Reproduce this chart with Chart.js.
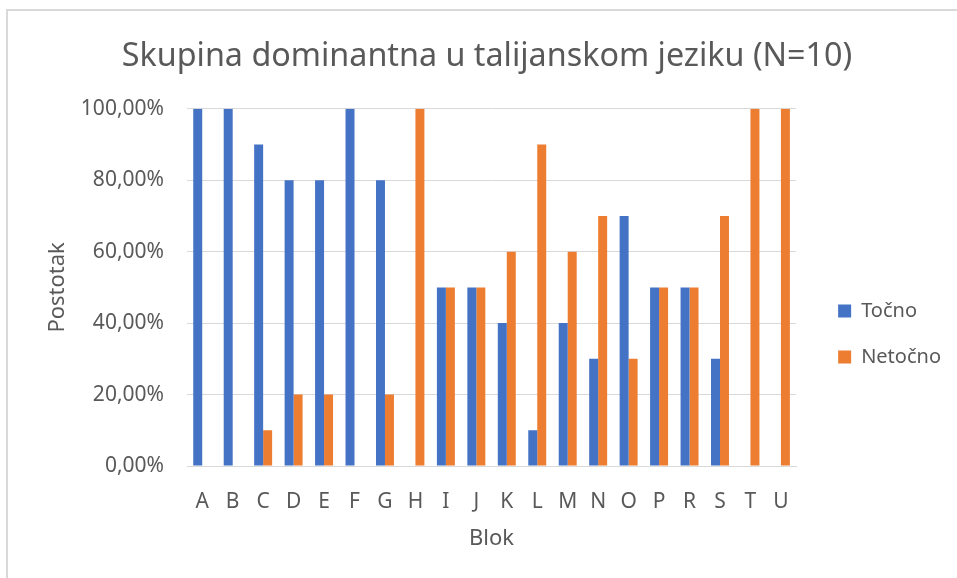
<!DOCTYPE html>
<html>
<head>
<meta charset="utf-8">
<script src="https://cdn.jsdelivr.net/npm/chart.js@4.4.0/dist/chart.umd.min.js"></script>
<style>
    html, body { margin: 0; padding: 0; background: #fff; }
    #okvir {
        position: absolute; left: 6px; top: 9px; width: 1000px; height: 600px;
        border-left: 2px solid #d9d9d9; border-top: 2px solid #d9d9d9;
    }
    #wrap { position: absolute; left: 0; top: 0; width: 957px; height: 578px; }
</style>
</head>
<body>
<div id="okvir"></div>
<div id="wrap"><canvas id="grafikon"></canvas></div>
<script>
// Podaci očitani s grafikona
const blokovi = ['A', 'B', 'C', 'D', 'E', 'F', 'G', 'H', 'I', 'J', 'K', 'L', 'M', 'N', 'O', 'P', 'R', 'S', 'T', 'U'];
const tocno =   [100, 100, 90, 80, 80, 100, 80, 0, 50, 50, 40, 10, 40, 30, 70, 50, 50, 30, 0, 0];
const netocno = [0, 0, 10, 20, 20, 0, 20, 100, 50, 50, 60, 90, 60, 70, 30, 50, 50, 70, 100, 100];
const yTicks = [0, 20, 40, 60, 80, 100];

const SIVA = '#595959';
const FONT = "'Noto Sans', sans-serif";

const ctx = document.getElementById('grafikon').getContext('2d');

new Chart(ctx, {
    type: 'bar',
    data: {
        labels: blokovi,
        datasets: [
            {
                label: 'Točno',
                data: tocno,
                backgroundColor: '#4472C4',
                categoryPercentage: 0.59,
                barPercentage: 1
            },
            {
                label: 'Netočno',
                data: netocno,
                backgroundColor: '#ED7D31',
                categoryPercentage: 0.59,
                barPercentage: 1
            }
        ]
    },
    options: {
        responsive: true,
        maintainAspectRatio: false,
        animation: false,
        layout: { padding: { top: 0, right: 6, bottom: 0, left: 23 } },
        plugins: {
            title: {
                display: true,
                text: 'Skupina dominantna u talijanskom jeziku (N=10)',
                color: SIVA,
                font: { family: FONT, size: 32.3, weight: 'normal' },
                padding: { top: 37, bottom: 33 }
            },
            legend: {
                position: 'right',
                // prazan naslov legende samo spušta stavke prema dolje
                title: {
                    display: true,
                    text: '',
                    font: { family: FONT, size: 20 },
                    padding: { top: 0, bottom: 66 }
                },
                labels: {
                    color: SIVA,
                    font: { family: FONT, size: 20 },
                    boxWidth: 13,
                    boxHeight: 13,
                    padding: 26
                }
            },
            tooltip: { enabled: false }
        },
        scales: {
            x: {
                grid: { display: false },
                border: { display: true, color: '#d9d9d9', width: 1 },
                ticks: {
                    color: SIVA,
                    font: { family: FONT, size: 21 },
                    autoSkip: false,
                    maxRotation: 0,
                    padding: 15
                },
                title: {
                    display: true,
                    text: 'Blok',
                    color: SIVA,
                    font: { family: FONT, size: 22 },
                    padding: { top: 0, bottom: 26 }
                },
                afterFit: s => { s.height = 112; }
            },
            y: {
                min: 0,
                max: 100,
                afterBuildTicks: s => { s.ticks = yTicks.map(v => ({ value: v })); },
                grid: { color: '#d9d9d9', drawTicks: false },
                border: { display: false },
                ticks: {
                    color: SIVA,
                    font: { family: FONT, size: 21 },
                    padding: 23,
                    callback: v => v.toFixed(2).replace('.', ',') + '%'
                },
                title: {
                    display: true,
                    text: 'Postotak',
                    color: SIVA,
                    font: { family: FONT, size: 22 },
                    padding: { top: 22, bottom: 0 }
                },
                afterFit: s => { s.width = 164; }
            },
            // prazan razmak između područja grafikona i legende
            razmak: {
                position: 'right',
                display: true,
                grid: { display: false },
                border: { display: false },
                ticks: { display: false },
                afterFit: s => { s.width = 16; }
            }
        }
    }
});
</script>
</body>
</html>
